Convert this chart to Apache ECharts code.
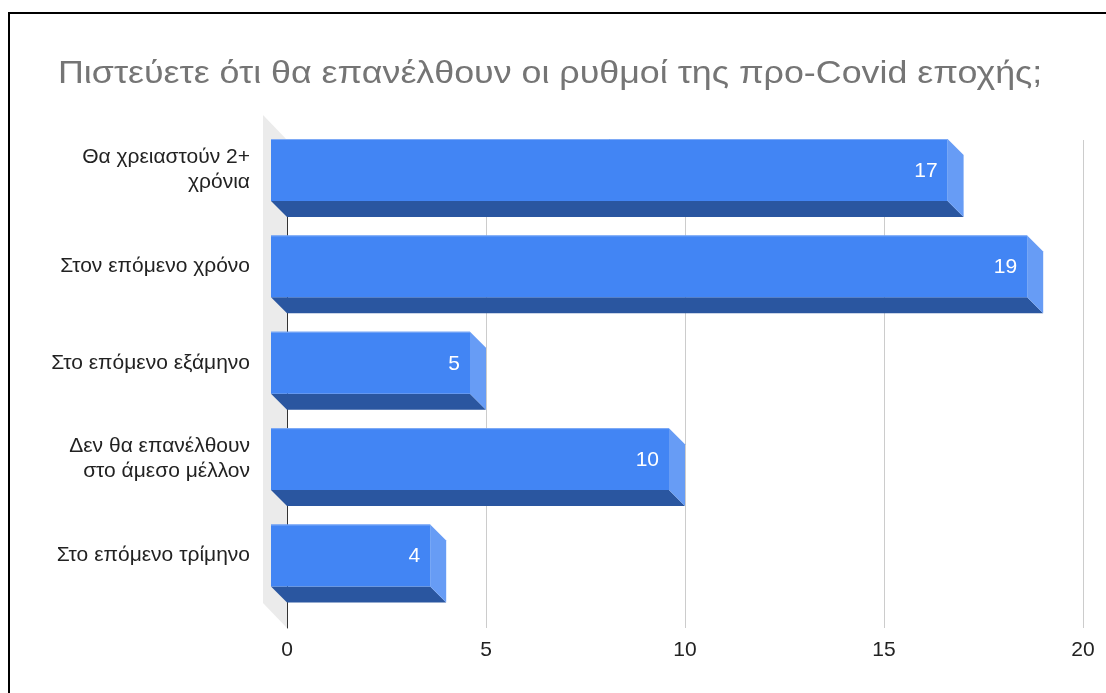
<!DOCTYPE html>
<html>
<head>
<meta charset="utf-8">
<title>Πιστεύετε ότι θα επανέλθουν οι ρυθμοί της προ-Covid εποχής;</title>
<script src="https://cdn.jsdelivr.net/npm/echarts@6/dist/echarts.min.js"></script>
<style>
  html, body { margin: 0; padding: 0; background: #fff; }
  #chart { width: 1106px; height: 693px; }
</style>
</head>
<body>
<div id="chart"></div>
<script>
// Answers (categories) and number of responses per answer
const categories = [
  'Θα χρειαστούν 2+\nχρόνια',
  'Στον επόμενο χρόνο',
  'Στο επόμενο εξάμηνο',
  'Δεν θα επανέλθουν\nστο άμεσο μέλλον',
  'Στο επόμενο τρίμηνο'
];
const responses = [17, 19, 5, 10, 4];
const axisMin = 0;
const axisMax = 20;
const axisStep = 5;
const chartTitle = 'Πιστεύετε ότι θα επανέλθουν οι ρυθμοί της προ-Covid εποχής;';

const FONT = '"Liberation Sans", Arial, sans-serif';
const FRONT = '#4285f4';
const SIDE = '#679cf5';
const BOTTOM = '#2a56a0';

// Each bar is drawn as a box: front face, bottom face and right-hand side face
function renderBox(params, api) {
  const v = api.value(0);
  const i = api.value(1);
  const base = api.coord([0, i]);
  const end = api.coord([v, i]);
  const band = api.size([0, 1])[1];
  const h = band * 0.643;
  const d = band * 0.166;
  const x0 = base[0], x1 = end[0];
  const yt = base[1] - h / 2, yb = base[1] + h / 2;
  return {
    type: 'group',
    children: [
      { type: 'polygon', shape: { points: [[x0, yb], [x1, yb], [x1 + d, yb + d], [x0 + d, yb + d]] },
        style: { fill: BOTTOM } },
      { type: 'polygon', shape: { points: [[x1, yt], [x1 + d, yt + d], [x1 + d, yb + d], [x1, yb]] },
        style: { fill: SIDE } },
      { type: 'rect', shape: { x: x0, y: yt, width: x1 - x0, height: h },
        style: { fill: FRONT } },
      { type: 'line', shape: { x1: x0, y1: yt + 0.5, x2: x1, y2: yt + 0.5 },
        style: { stroke: '#7eaaf6', lineWidth: 1 } },
      { type: 'text', x: x1 - 10, y: base[1] + 1,
        style: { text: String(v), fill: '#ffffff', font: '21px ' + FONT,
                 align: 'right', verticalAlign: 'middle' } }
    ]
  };
}

const chart = echarts.init(document.getElementById('chart'), null, { renderer: 'canvas' });
chart.setOption({
  backgroundColor: '#ffffff',
  animation: false,
  graphic: [
    // chart title, set slightly wide
    { type: 'text', x: 58, y: 59, scaleX: 1.155, scaleY: 1,
      style: { text: chartTitle, fill: '#757575', font: '31px ' + FONT,
               align: 'left', verticalAlign: 'top' }, z: 10 },
    // frame
    { type: 'polyline', shape: { points: [[9, 693], [9, 13], [1106, 13]] },
      style: { stroke: '#000', lineWidth: 2, fill: null }, z: 10 },
    // side wall behind the bars
    { type: 'polygon', shape: { points: [[263, 115], [287, 140], [287, 628], [263, 603]] },
      style: { fill: '#ebebeb' }, z: -1 }
  ],
  grid: [
    { left: 287, right: 23, top: 140, bottom: 65 },
    { left: 271, right: 39, top: 121.8, height: 481.9 }
  ],
  xAxis: [
    {
      gridIndex: 0, type: 'value', min: axisMin, max: axisMax, interval: axisStep,
      axisLine: { show: false }, axisTick: { show: false },
      splitLine: { lineStyle: { color: '#cccccc', width: 1 } },
      axisLabel: { color: '#222', fontFamily: FONT, fontSize: 21, margin: 12 }
    },
    { gridIndex: 1, type: 'value', min: axisMin, max: axisMax, show: false }
  ],
  yAxis: [
    {
      gridIndex: 0, type: 'value', min: 0, max: 1,
      axisLine: { show: true, lineStyle: { color: '#333', width: 1 } },
      axisTick: { show: false }, axisLabel: { show: false }, splitLine: { show: false }
    },
    {
      gridIndex: 1, type: 'category', inverse: true, data: categories,
      axisLine: { show: false }, axisTick: { show: false }, splitLine: { show: false },
      axisLabel: { color: '#222', fontFamily: FONT, fontSize: 21, lineHeight: 25,
                   margin: 21, align: 'right' }
    }
  ],
  series: [{
    type: 'custom',
    xAxisIndex: 1,
    yAxisIndex: 1,
    renderItem: renderBox,
    encode: { x: 0, y: 1 },
    data: responses.map((v, i) => [v, i]),
    z: 5
  }]
});
</script>
</body>
</html>
